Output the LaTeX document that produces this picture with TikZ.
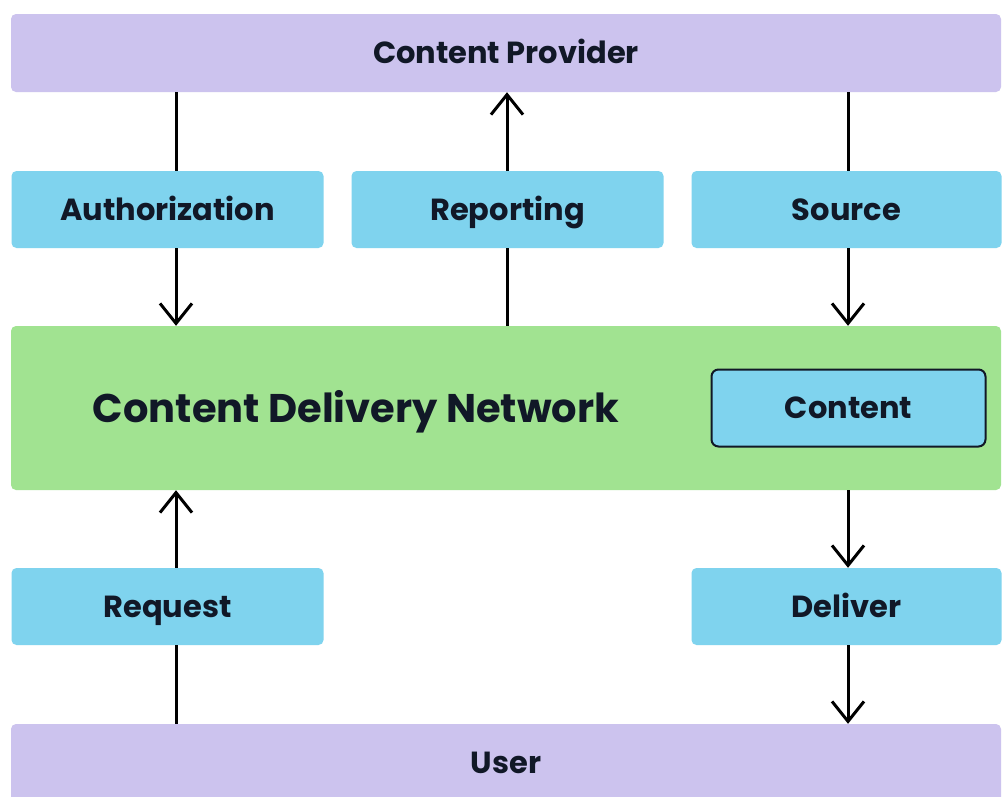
\documentclass[tikz,border=0pt]{standalone}
\usepackage{fontspec}
\setmainfont{Poppins}
\usetikzlibrary{arrows.meta}

\definecolor{provider}{HTML}{CCC3EE}
\definecolor{service}{HTML}{7FD3EE}
\definecolor{network}{HTML}{A1E391}
\definecolor{ink}{HTML}{111827}

\tikzset{
  label/.style={text=ink, text height=21pt, text depth=0pt,
    font=\bfseries\fontsize{30.5}{34}\selectfont},
  band/.style={label, fill=provider, rounded corners=5pt, inner sep=0pt,
    minimum width=990pt, minimum height=78pt},
  tile/.style={label, fill=service, rounded corners=5pt, inner sep=0pt,
    minimum width=312pt, minimum height=77pt},
  store/.style={tile, draw=ink, line width=2pt, rounded corners=7pt,
    minimum width=274pt, minimum height=77pt},
  link/.style={line width=3pt},
  flow/.style={link, -{Straight Barb[length=20pt,width=32pt]}}
}

\begin{document}
\begin{tikzpicture}[x=1pt,y=-1pt]
  \fill[white] (0,0) rectangle (1003,796);
  \useasboundingbox (0,0) rectangle (1003,796);
  % columns of the connectors
  \coordinate (colA) at (176,0);
  \coordinate (colB) at (507,0);
  \coordinate (colC) at (848,0);

  \node[band] (provider) at (506,53) {Content Provider};
  \node[tile] (auth) at (167.5,209.5) {Authorization};
  \node[tile] (report) at (507.5,209.5) {Reporting};
  \node[tile, minimum width=310pt] (source) at (846.5,209.5) {Source};

  \node[fill=network, rounded corners=5pt, minimum width=990pt,
    minimum height=164pt] (cdn) at (506,408) {};
  \node[label, text height=28pt, font=\bfseries\fontsize{40}{46}\selectfont]
    (cdntitle) at (356,408) {Content Delivery Network};
  \node[store] (content) at (848.5,408) {Content};

  \node[tile] (request) at (167.5,606.5) {Request};
  \node[tile, minimum width=310pt] (deliver) at (846.5,606.5) {Deliver};
  \node[band] (user) at (506,763) {User};

  % up to the provider
  \draw[link] (provider.south -| colA) -- (auth.north -| colA);
  \draw[flow] (auth.south -| colA) -- (cdn.north -| colA);
  \draw[link] (cdn.north -| colB) -- (report.south -| colB);
  \draw[flow] (report.north -| colB) -- (provider.south -| colB);
  \draw[link] (provider.south -| colC) -- (source.north -| colC);
  \draw[flow] (source.south -| colC) -- (cdn.north -| colC);
  % down to the user
  \draw[flow] (cdn.south -| colC) -- (deliver.north -| colC);
  \draw[flow] (deliver.south -| colC) -- (user.north -| colC);
  \draw[link] (user.north -| colA) -- (request.south -| colA);
  \draw[flow] (request.north -| colA) -- (cdn.south -| colA);
\end{tikzpicture}
\end{document}
